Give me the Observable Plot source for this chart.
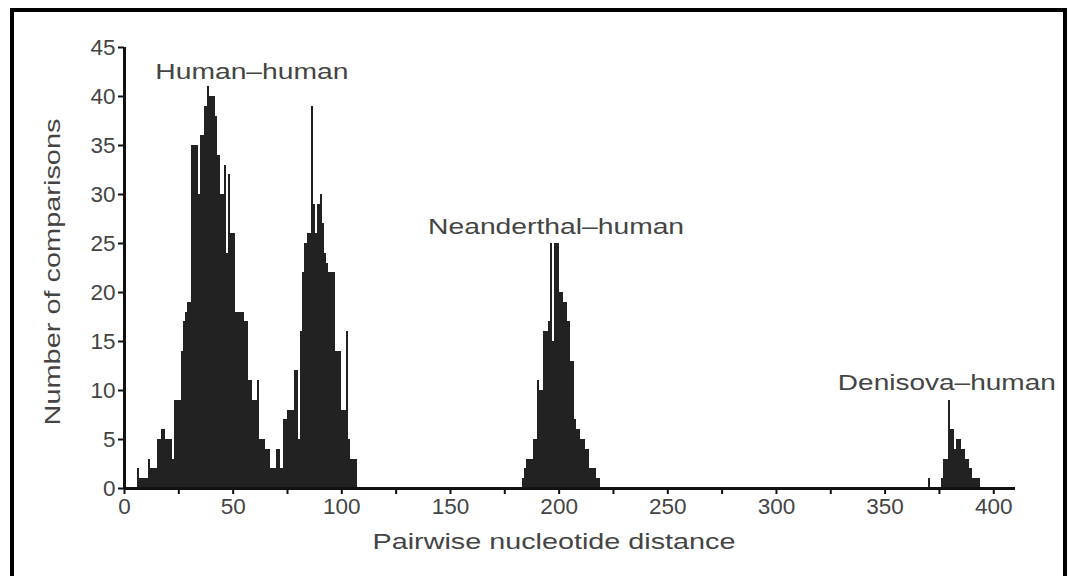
<!DOCTYPE html>
<html><head><meta charset="utf-8">
<script src="https://cdn.jsdelivr.net/npm/d3@7"></script>
<script src="https://cdn.jsdelivr.net/npm/@observablehq/plot@0.6"></script>
<style>
html,body{margin:0;padding:0;background:#fff;overflow:hidden;width:1068px;height:576px;}
#frame{position:absolute;left:10px;top:8px;width:1049px;height:620px;border:4px solid #000;}
#chart{position:absolute;left:0;top:0;}
</style></head><body>
<div id="frame"></div><div id="chart"></div>
<script>
// Pairwise nucleotide distance histogram (counts per distance)
const humanHumanStart = 0;
const humanHumanCounts = [3,0,0,0,0,0,2,1,1,1, 1,3,2,2,2,5,5,6,6,5, 5,5,3,9,9,9,14,17,18,19, 19,35,35,35,30,36,36,39,41,40, 40,40,38,34,30,30,33,24,32,26, 26,18,18,18,18,17,17,11,11,9, 9,11,5,5,5,4,4,2,2,2, 4,4,2,7,7,8,8,8,12,12, 5,16,22,25,26,26,39,29,26,29, 30,27,24,23,22,22,22,14,14,14, 8,8,16,5,3,3,3];
const neanderthalStart = 183;
const neanderthalCounts = [1,2,3,3,3,5,5,11,10,10, 16,16,17,25,15,25,25,20,20,19, 19,17,13,13,7,6,6,5,5,4, 4,2,2,2,1,1];
const denisovaStart = 370;
const denisovaCounts = [1,0,0,0,0,0,1,3,3,9, 6,6,4,5,5,4,4,3,3,2, 1,1,1,1];

const xTicks = d3.range(0, 401, 25);
const yTicks = d3.range(0, 46, 5);
const annotations = [
  {label: "Human–human", x: 58.6, y: 42.5},
  {label: "Neanderthal–human", x: 198.6, y: 26.7},
  {label: "Denisova–human", x: 378.4, y: 10.8}
];
const xLabel = "Pairwise nucleotide distance";
const yLabel = "Number of comparisons";

const rows = [];
[[humanHumanStart, humanHumanCounts],[neanderthalStart, neanderthalCounts],[denisovaStart, denisovaCounts]]
  .forEach(([s, arr]) => arr.forEach((n, i) => { if (n > 0) rows.push({d: s + i, n}); }));

const plot = Plot.plot({
  width: 1068, height: 576,
  marginLeft: 124, marginRight: 53, marginTop: 47, marginBottom: 88,
  style: {fontFamily: "'Liberation Sans', Arial, sans-serif", fontSize: "22.5px", color: "#444", background: "transparent"},
  x: {domain: [0, 410], axis: null},
  y: {domain: [0, 45], axis: null},
  marks: [
    Plot.rectY(rows, {x1: "d", x2: d => d.d + 1, y: "n", fill: "#222", shapeRendering: "crispEdges"}),
    Plot.axisX(xTicks, {tickSize: 6, tickPadding: 4, strokeWidth: 2, stroke: "#111", fill: "#444", label: null,
      tickFormat: d => d % 50 === 0 ? String(d) : ""}),
    Plot.axisY(yTicks, {tickSize: 6, tickPadding: 3, strokeWidth: 2, stroke: "#111", fill: "#444", label: null}),
    Plot.ruleY([0], {strokeWidth: 3, stroke: "#111"}),
    Plot.ruleX([0], {strokeWidth: 3, stroke: "#111"}),
    Plot.text(annotations, {x: "x", y: "y", text: "label", fontSize: 22, fill: "#444"}),
    Plot.text([xLabel], {frameAnchor: "bottom", textAnchor: "middle", dx: -16, dy: 60, fontSize: 22, fill: "#444"}),
    Plot.text([yLabel], {frameAnchor: "left", textAnchor: "middle", rotate: -90, dx: -72, dy: 4, fontSize: 22, fill: "#444"})
  ]
});

const stretch = new Map([["Human–human", 193], ["Neanderthal–human", 256], ["Denisova–human", 218], [xLabel, 363], [yLabel, 307]]);
d3.select(plot).selectAll("text").each(function() {
  const t = this.textContent;
  if (stretch.has(t)) {
    this.setAttribute("textLength", stretch.get(t));
    this.setAttribute("lengthAdjust", "spacingAndGlyphs");
  }
});
document.getElementById("chart").appendChild(plot);
</script>
</body></html>
